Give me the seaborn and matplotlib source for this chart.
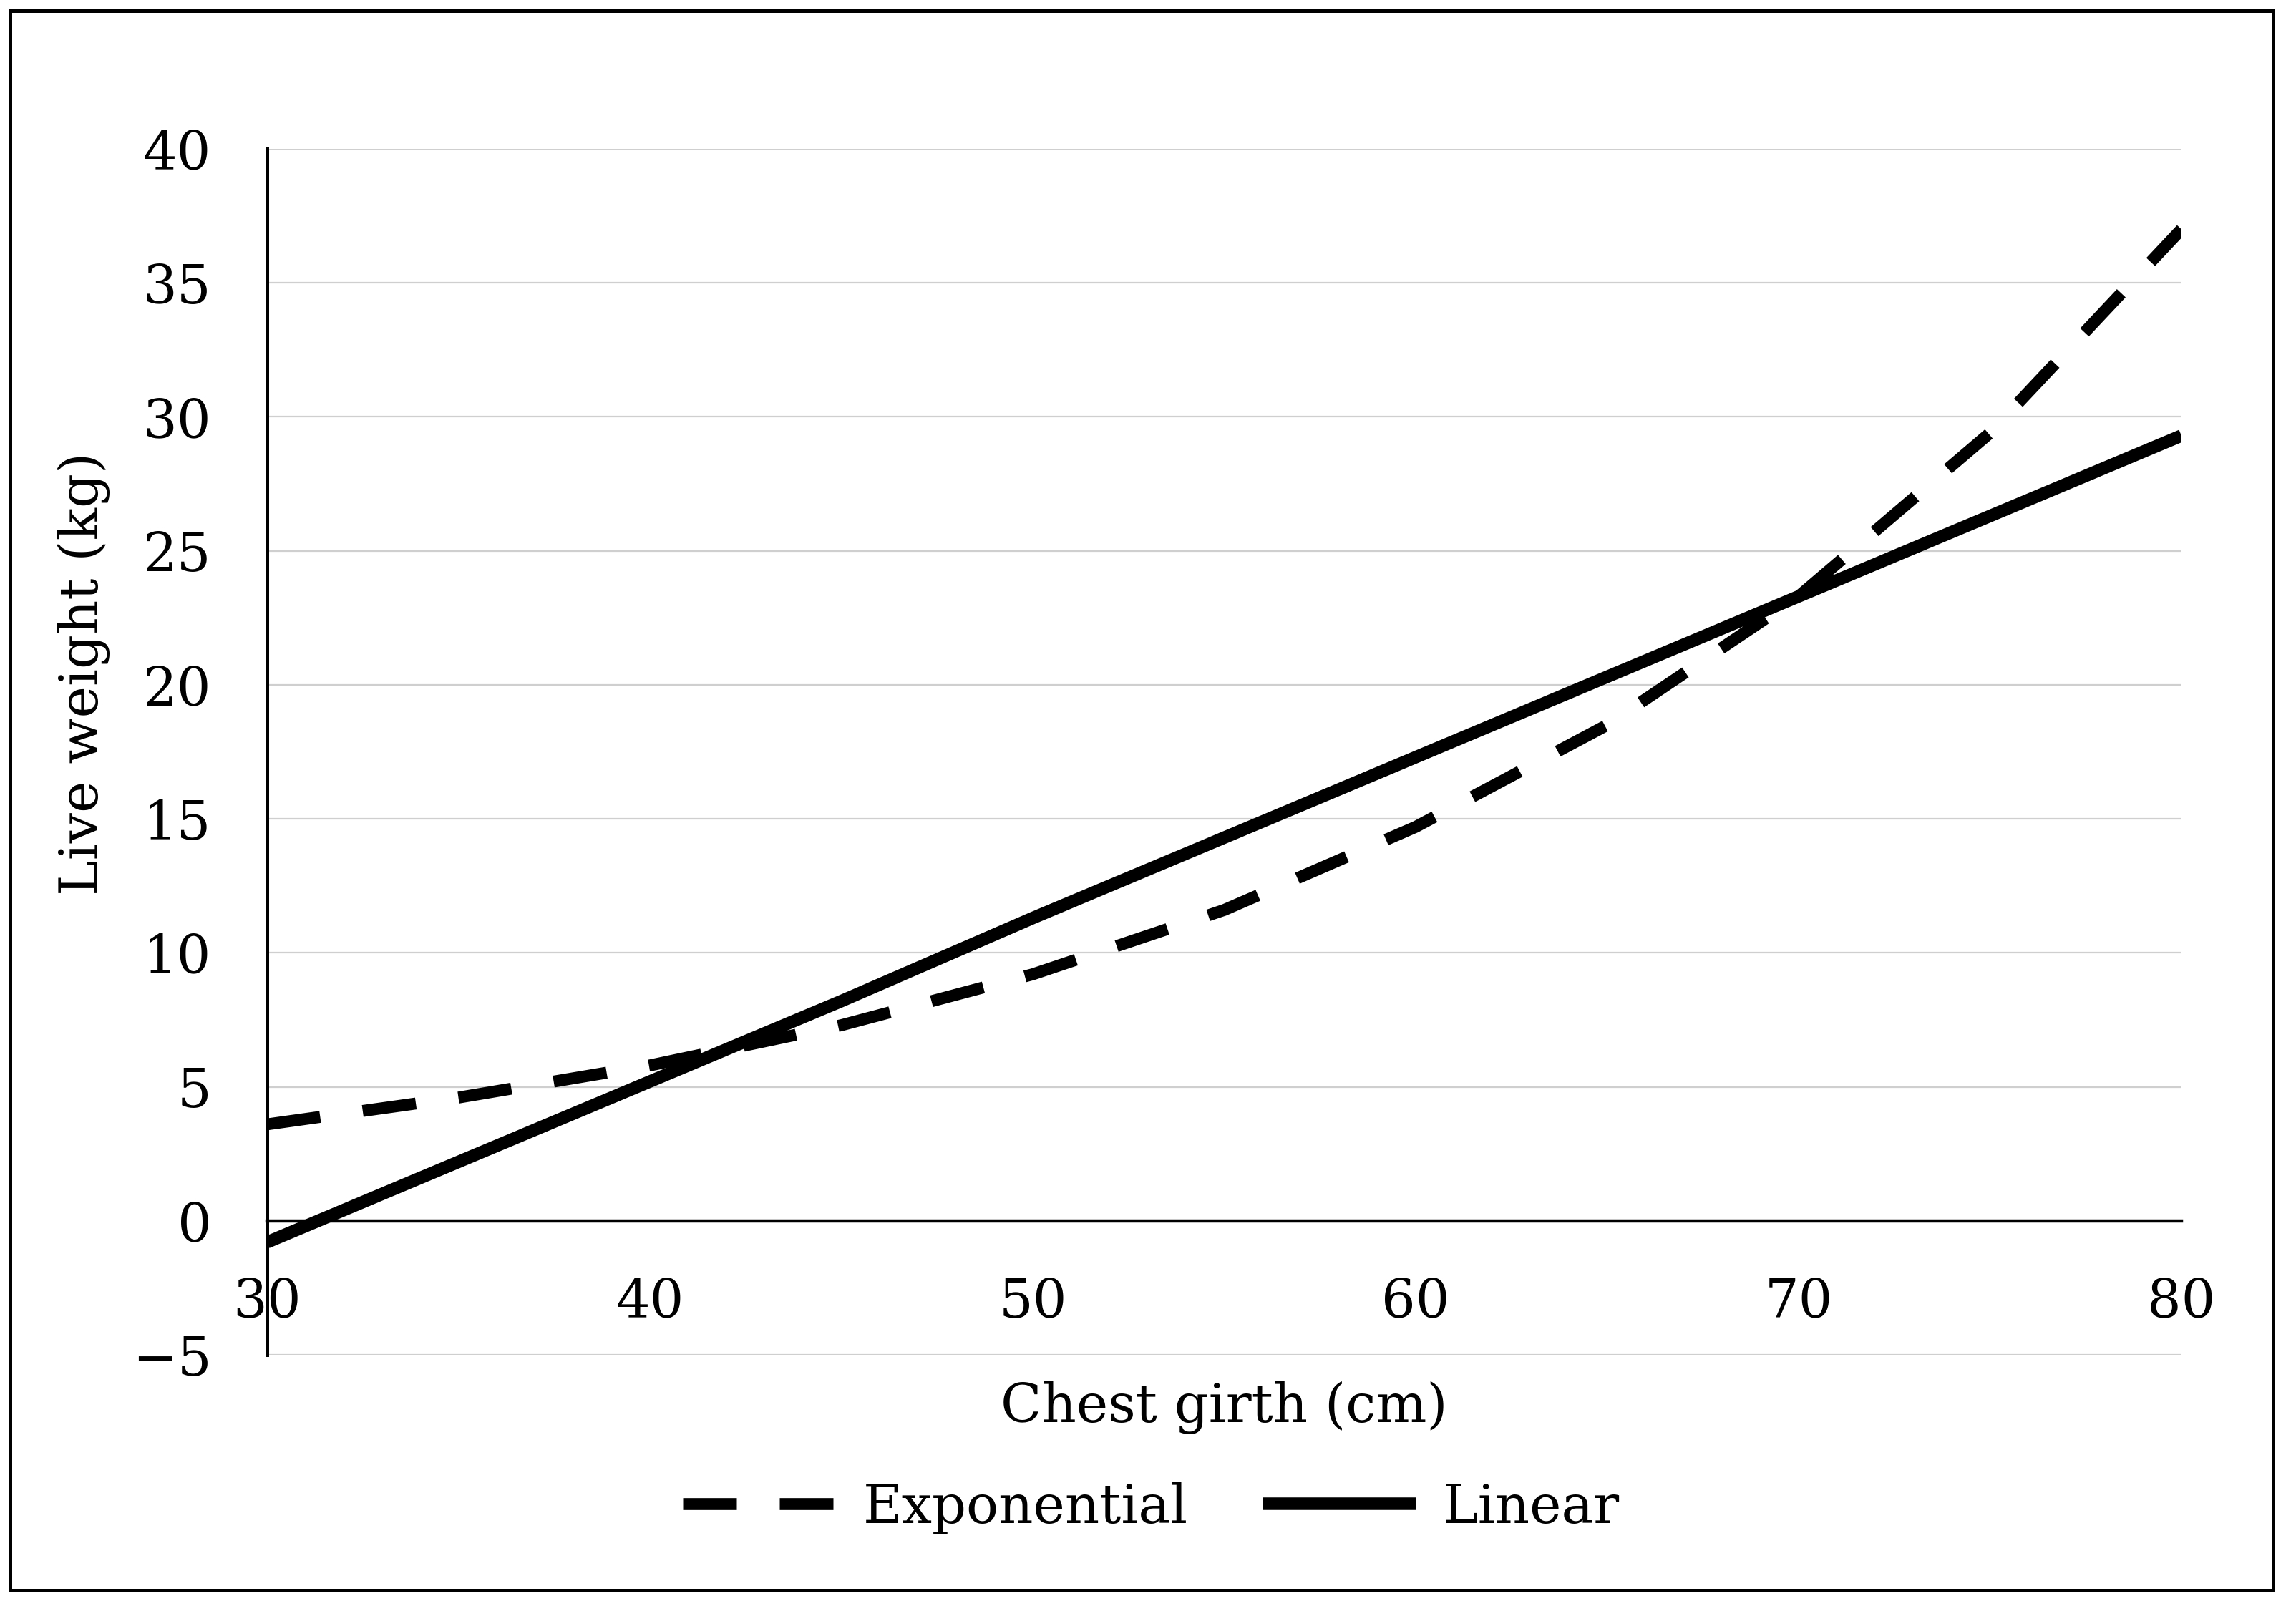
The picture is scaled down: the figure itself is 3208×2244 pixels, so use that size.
import pandas as pd
import matplotlib
matplotlib.use("Agg")
import matplotlib.pyplot as plt
import seaborn as sns
from matplotlib.patches import Rectangle

# =========================
# DATA
# =========================
girth = [30, 35, 40, 45, 50, 55, 60, 65, 70, 75, 80]
exponential = [3.6, 4.6, 5.8, 7.3, 9.2, 11.6, 14.7, 18.5, 23.3, 29.4, 37.0]
linear = [-0.8, 2.2, 5.2, 8.2, 11.3, 14.3, 17.3, 20.3, 23.3, 26.3, 29.3]

y_ticks = [-5, 0, 5, 10, 15, 20, 25, 30, 35, 40]
x_ticks = [30, 40, 50, 60, 70, 80]

df = pd.DataFrame({"girth": girth, "Exponential": exponential, "Linear": linear})

# =========================
# STYLE
# =========================
sns.set_theme(style="white")
plt.rcParams['font.family'] = ['DejaVu Serif', 'DejaVu Sans']
FS = 27

fig = plt.figure(figsize=(16.04, 11.22), dpi=200)
ax = fig.add_axes([0.1163, 0.1564, 0.9501 - 0.1163, 0.9073 - 0.1564])

# outer frame
fig.patches.append(Rectangle((0.0045, 0.0100), 0.9855, 0.9833, transform=fig.transFigure,
                             fill=False, edgecolor='black', linewidth=1.8))

# =========================
# LINES
# =========================
sns.lineplot(data=df, x="girth", y="Exponential", ax=ax, color='black',
             linewidth=6.0, linestyle=(0, (4.5, 3.6)), dash_capstyle='butt',
             label="Exponential")
sns.lineplot(data=df, x="girth", y="Linear", ax=ax, color='black',
             linewidth=6.3, solid_capstyle='butt', label="Linear")

# =========================
# AXES
# =========================
ax.set_xlim(30, 80)
ax.set_ylim(-5, 40)
ax.set_yticks(y_ticks)
ax.set_xticks(x_ticks)
ax.grid(axis='y', color='#cfcfcf', linewidth=0.8)
ax.grid(axis='x', visible=False)
ax.set_axisbelow(True)

for s in ['top', 'right']:
    ax.spines[s].set_visible(False)
ax.spines['left'].set_color('black')
ax.spines['left'].set_linewidth(1.8)
ax.spines['bottom'].set_position(('data', 0))
ax.spines['bottom'].set_color('black')
ax.spines['bottom'].set_linewidth(1.6)

ax.tick_params(axis='both', length=0, labelsize=FS, colors='black')
ax.tick_params(axis='x', pad=28)
ax.tick_params(axis='y', pad=28)

ax.set_xlabel("Chest girth (cm)", fontsize=FS, color='black')
ax.set_ylabel("Live weight (kg)", fontsize=FS, color='black')
ax.xaxis.set_label_coords(0.5, -0.022)
ax.yaxis.set_label_coords(-0.082, 0.565)

# =========================
# LEGEND
# =========================
handles, labels = ax.get_legend_handles_labels()
ax.get_legend().remove()
fig.legend(handles, labels, loc='center', bbox_to_anchor=(0.5015, 0.061),
           ncol=2, frameon=False, fontsize=FS, handlelength=2.85,
           handletextpad=0.5, columnspacing=1.4, labelcolor='black')

fig.savefig("out.png", dpi=200)
